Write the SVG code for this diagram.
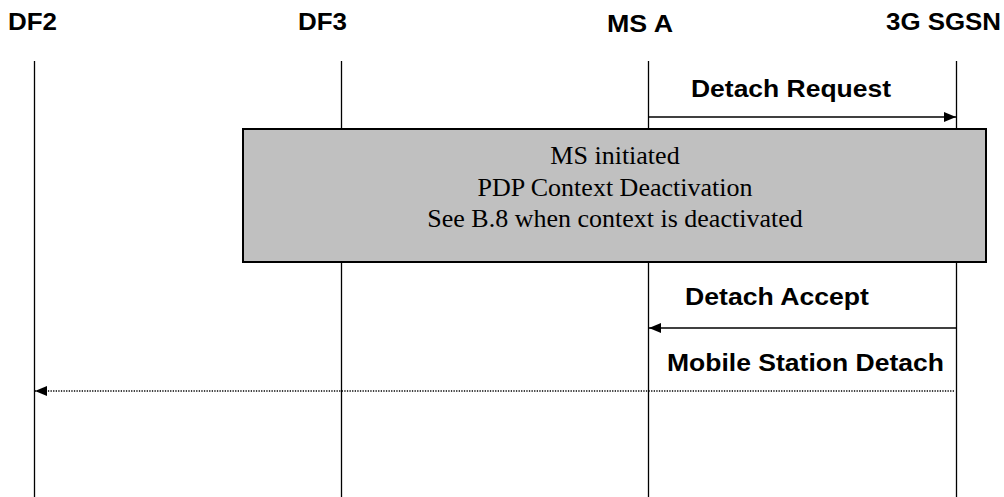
<svg xmlns="http://www.w3.org/2000/svg" width="1004" height="497" viewBox="0 0 1004 497">
<style>
.hdr{font-family:"Liberation Sans",Arial,sans-serif;font-weight:bold;font-size:24px;fill:#000}
.lbl{font-family:"Liberation Sans",Arial,sans-serif;font-weight:bold;font-size:24px;fill:#000}
.box{font-family:"Liberation Serif","Times New Roman",serif;font-size:26px;fill:#000}
.life{stroke:#000;stroke-width:1.3;fill:none}
.msg{stroke:#000;stroke-width:1.3;fill:none}
.dot{stroke:#000;stroke-width:1.3;fill:none;stroke-dasharray:1.3 1.3}
</style>
<defs>
<marker id="ah" markerWidth="12" markerHeight="10" refX="12" refY="5" orient="auto" markerUnits="userSpaceOnUse">
<path d="M0,0 L12,5 L0,10 Z" fill="#000"/>
</marker>
</defs>
<rect width="1004" height="497" fill="#fff"/>
<g id="DF2">
<text class="hdr" x="8" y="30" textLength="49" lengthAdjust="spacingAndGlyphs">DF2</text>
<line class="life" x1="34.5" y1="61" x2="34.5" y2="497"/>
</g>
<g id="DF3">
<text class="hdr" x="298" y="30" textLength="49" lengthAdjust="spacingAndGlyphs">DF3</text>
<line class="life" x1="341.5" y1="61" x2="341.5" y2="497"/>
</g>
<g id="MSA">
<text class="hdr" x="607" y="32" textLength="66" lengthAdjust="spacingAndGlyphs">MS A</text>
<line class="life" x1="648.5" y1="61" x2="648.5" y2="497"/>
</g>
<g id="SGSN">
<text class="hdr" x="886" y="30" textLength="115" lengthAdjust="spacingAndGlyphs">3G SGSN</text>
<line class="life" x1="956.5" y1="61" x2="956.5" y2="497"/>
</g>
<g id="deactivation">
<rect x="243" y="129" width="743" height="133" fill="#c0c0c0" stroke="#000" stroke-width="2"/>
<text class="box" text-anchor="middle" x="615" y="164">MS initiated</text>
<text class="box" text-anchor="middle" x="615" y="196">PDP Context Deactivation</text>
<text class="box" text-anchor="middle" x="615" y="227">See B.8 when context is deactivated</text>
</g>
<g id="connectors">
<line class="msg" x1="648.5" y1="117" x2="956" y2="117" marker-end="url(#ah)"/>
<text class="lbl" x="691" y="97" textLength="200" lengthAdjust="spacingAndGlyphs">Detach Request</text>
<line class="msg" x1="956.5" y1="328" x2="649" y2="328" marker-end="url(#ah)"/>
<text class="lbl" x="685" y="305" textLength="184" lengthAdjust="spacingAndGlyphs">Detach Accept</text>
<line class="dot" x1="954" y1="391" x2="35" y2="391" marker-end="url(#ah)"/>
<text class="lbl" x="667" y="371" textLength="277" lengthAdjust="spacingAndGlyphs">Mobile Station Detach</text>
</g>
</svg>
